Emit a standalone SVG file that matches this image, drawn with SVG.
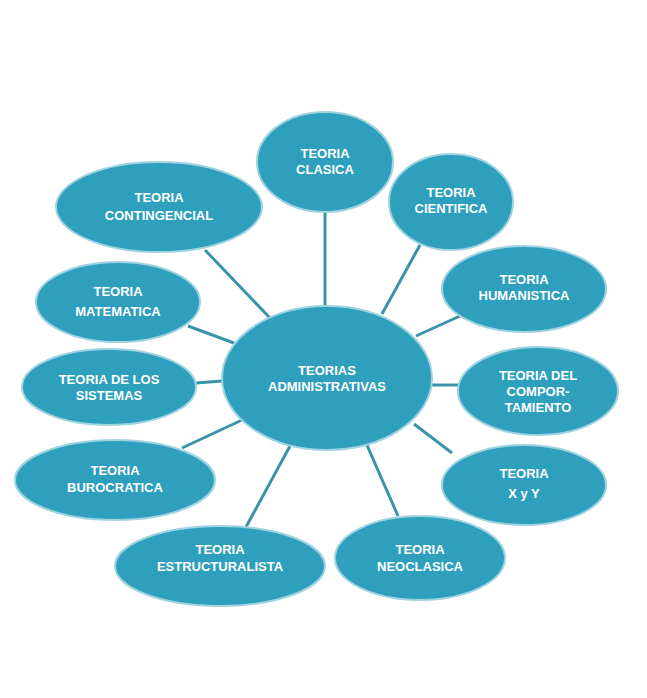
<svg xmlns="http://www.w3.org/2000/svg" width="647" height="698" viewBox="0 0 647 698">
<style>
ellipse{fill:#2e9fbd;stroke:#9fd3e0;stroke-width:2}
text{fill:#fff;font-family:"Liberation Sans",Arial,sans-serif;font-weight:bold;font-size:13px;text-anchor:middle}
#c line{stroke:#3a93a9;stroke-width:3}
</style>
<rect width="647" height="698" fill="#fff"/>
<g id="c">
<line x1="325" y1="212" x2="325" y2="306"/>
<line x1="420" y1="245" x2="382" y2="314"/>
<line x1="205" y1="250" x2="270" y2="318"/>
<line x1="460" y1="316" x2="416" y2="336"/>
<line x1="188" y1="326" x2="234" y2="343"/>
<line x1="458" y1="385" x2="431" y2="385"/>
<line x1="196" y1="383" x2="222" y2="381"/>
<line x1="452" y1="453" x2="414" y2="424"/>
<line x1="182" y1="448" x2="242" y2="420"/>
<line x1="398" y1="516" x2="366" y2="443"/>
<line x1="246" y1="527" x2="290" y2="446"/>
</g>
<g id="n0"><ellipse cx="327" cy="378" rx="105" ry="72"/><text x="327" y="375">TEORIAS</text><text x="327" y="391">ADMINISTRATIVAS</text></g>
<g id="n1"><ellipse cx="325" cy="162" rx="68" ry="50"/><text x="325" y="158">TEORIA</text><text x="325" y="174">CLASICA</text></g>
<g id="n2"><ellipse cx="451" cy="202" rx="62" ry="48"/><text x="451" y="197">TEORIA</text><text x="451" y="213">CIENTIFICA</text></g>
<g id="n3"><ellipse cx="159" cy="207" rx="103" ry="45"/><text x="159" y="202" font-size="14">TEORIA</text><text x="159" y="220" font-size="15">CONTINGENCIAL</text></g>
<g id="n4"><ellipse cx="524" cy="289" rx="82" ry="43"/><text x="524" y="284">TEORIA</text><text x="524" y="300">HUMANISTICA</text></g>
<g id="n5"><ellipse cx="118" cy="302" rx="82" ry="40"/><text x="118" y="296">TEORIA</text><text x="118" y="316" font-weight="normal">MATEMATICA</text></g>
<g id="n6"><ellipse cx="538" cy="391" rx="80" ry="44"/><text x="538" y="380">TEORIA DEL</text><text x="538" y="396">COMPOR-</text><text x="538" y="412">TAMIENTO</text></g>
<g id="n7"><ellipse cx="109" cy="387" rx="87" ry="38"/><text x="109" y="384">TEORIA DE LOS</text><text x="109" y="400">SISTEMAS</text></g>
<g id="n8"><ellipse cx="524" cy="485" rx="82" ry="40"/><text x="524" y="478">TEORIA</text><text x="524" y="498">X  y Y</text></g>
<g id="n9"><ellipse cx="115" cy="480" rx="100" ry="40"/><text x="115" y="475">TEORIA</text><text x="115" y="492">BUROCRATICA</text></g>
<g id="n10"><ellipse cx="420" cy="558" rx="85" ry="42"/><text x="420" y="554">TEORIA</text><text x="420" y="571">NEOCLASICA</text></g>
<g id="n11"><ellipse cx="220" cy="566" rx="105" ry="40"/><text x="220" y="554">TEORIA</text><text x="220" y="571">ESTRUCTURALISTA</text></g>
</svg>
